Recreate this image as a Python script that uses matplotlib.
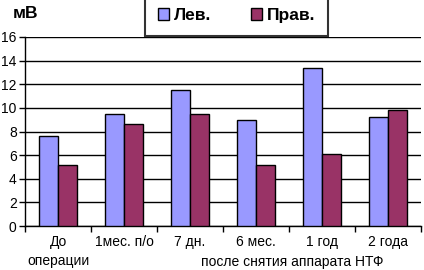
import matplotlib
matplotlib.use("Agg")
import matplotlib.pyplot as plt
import numpy as np

plt.rcParams['font.family'] = ['Liberation Sans', 'DejaVu Sans']

categories = ["До\nоперации", "1мес. п/о", "7 дн.", "6 мес.", "1 год", "2 года"]
lev = [7.6, 9.5, 11.5, 9.0, 13.4, 9.2]
prav = [5.2, 8.6, 9.5, 5.2, 6.1, 9.8]
series_names = ["Лев.", "Прав."]
sublabel = "после снятия аппарата НТФ"

fig = plt.figure(figsize=(4.24, 2.70), dpi=100)
ax = fig.add_axes([25 / 424, 44 / 270, 396 / 424, 189 / 270])

x = np.arange(len(categories))
w = 0.29
ax.bar(x - w / 2, lev, w, color="#9999FF", edgecolor="black", linewidth=1.0,
       label=series_names[0], zorder=3)
ax.bar(x + w / 2, prav, w, color="#993366", edgecolor="black", linewidth=1.0,
       label=series_names[1], zorder=3)

ax.set_xlim(-0.5, len(categories) - 0.5)
ax.set_ylim(0, 16)
ax.set_yticks(range(0, 17, 2))
ax.yaxis.grid(True, color="black", linewidth=1.0, zorder=0)

# category boundary ticks
ax.set_xticks(np.arange(-0.5, len(categories), 1.0))
ax.set_xticklabels([])
ax.tick_params(axis="x", length=4, width=1, direction="out")
ax.tick_params(axis="y", length=4, width=1, direction="out", labelsize=10, pad=2)
for i, c in enumerate(categories):
    ax.text(i, -0.75, c, ha="center", va="top", fontsize=10, linespacing=1.5)
ax.text(3.55, -2.45, sublabel, ha="center", va="top", fontsize=10)

for s in ["top", "right"]:
    ax.spines[s].set_visible(False)
ax.spines["left"].set_linewidth(1.0)
ax.spines["bottom"].set_linewidth(1.0)

fig.text(13 / 424, 1 - 14 / 270, "мВ", fontsize=12.5, fontweight="bold", va="center")

leg = fig.legend(loc="upper left", bbox_to_anchor=(145 / 424, 1 + 5 / 270), ncol=2,
                 frameon=True, fancybox=False, edgecolor="black",
                 prop={"weight": "bold", "size": 12.5}, handlelength=0.65,
                 handleheight=0.65, handletextpad=0.25, columnspacing=2.3,
                 borderpad=0.75, borderaxespad=0)
leg.get_frame().set_linewidth(1.5)

fig.savefig("out.png", dpi=100)
